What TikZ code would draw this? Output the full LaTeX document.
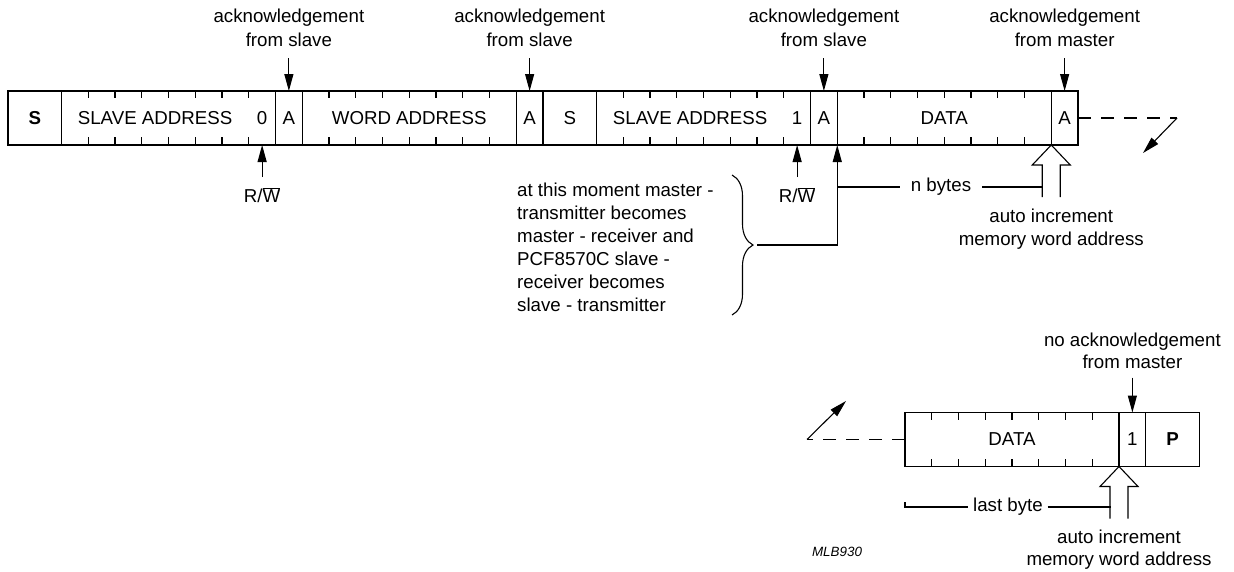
\documentclass[tikz,border=0pt]{standalone}
\usepackage{fontspec}
\setmainfont{Liberation Sans}
\usetikzlibrary{arrows.meta,decorations.pathreplacing}
\newcommand\lblfont{\fontsize{18.7pt}{23pt}\selectfont}
\begin{document}
\begin{tikzpicture}[x=1pt,y=-1pt,
  every node/.style={font=\lblfont, inner sep=0pt},
  ln/.style={line width=1.1pt},
  cell/.style={draw, ln, minimum height=54pt, anchor=north west, outer sep=0pt},
  lbl/.style={align=center},
  arr/.style={ln, -{Triangle[length=17pt,width=9pt]}},
  dashline/.style={ln, dash pattern=on 13pt off 10pt},
  hollow/.pic={\draw[line width=1.1pt, line join=miter] (-9,52) -- (-9,20) -- (-19,20) -- (0,0) -- (19,20) -- (9,20) -- (9,52);}
]
\useasboundingbox (0,0) rectangle (1234,571);
\def\u{26.75}
% ---------- top frame ----------
\node[cell, minimum width=53.5pt] (S1) at (8,91) {\textbf{S}};
\node[cell, minimum width=214pt] (SA1) at (61.5,91) {};
\node[cell, minimum width=26.75pt] (A1) at (275.5,91) {A};
\node[cell, minimum width=214pt] (WA) at (302.25,91) {WORD ADDRESS};
\node[cell, minimum width=26.75pt] (A2) at (516.25,91) {A};
\node[cell, minimum width=53.5pt] (S2) at (543,91) {S};
\node[cell, minimum width=214pt] (SA2) at (596.5,91) {};
\node[cell, minimum width=26.75pt] (A3) at (810.5,91) {A};
\node[cell, minimum width=214pt] (D1) at (837.25,91) {DATA};
\node[cell, minimum width=26.75pt] (A4) at (1051.25,91) {A};
\node (sa1t) at ([xshift=3.5*\u pt]SA1.west) {SLAVE ADDRESS};
\node (z0) at ([xshift=7.5*\u pt]SA1.west) {0};
\node (sa2t) at ([xshift=3.5*\u pt]SA2.west) {SLAVE ADDRESS};
\node (z1) at ([xshift=7.5*\u pt]SA2.west) {1};
\foreach \f in {SA1,WA,SA2,D1}{
  \foreach \k in {1,...,7}{
    \draw[ln] ([xshift=\k*\u pt]\f.north west) -- ++(0,7);
    \draw[ln] ([xshift=\k*\u pt]\f.south west) -- ++(0,-8);
  }
}
% acknowledgement labels
\tikzset{acklbl/.style={lbl, font=\fontsize{18.7pt}{24.5pt}\selectfont}}
\node[acklbl] (ack1) at (A1.north |- 0,28) {acknowledgement\\from slave};
\node[acklbl] (ack2) at (A2.north |- 0,28) {acknowledgement\\from slave};
\node[acklbl] (ack3) at (A3.north |- 0,28) {acknowledgement\\from slave};
\node[acklbl] (ack4) at (A4.north |- 0,28) {acknowledgement\\from master};
\foreach \a in {A1,A2,A3,A4}{
  \draw[arr] ([yshift=33pt]\a.north) -- (\a.north);
}
% R/W
\node[anchor=base] (rw1) at (z0 |- 0,202) {R/$\overline{\mbox{W}}$};
\node[anchor=base] (rw2) at (z1 |- 0,202) {R/$\overline{\mbox{W}}$};
\coordinate (rwt1) at (z0 |- 0,177);
\coordinate (rwt2) at (z1 |- 0,177);
\draw[arr] (rwt1) -- (rwt1 |- SA1.south);
\draw[arr] (rwt2) -- (rwt2 |- SA2.south);
% continuation
\coordinate (c1) at (1177,118);
\coordinate (c2) at (1143,153);
\draw[dashline] (A4.east) -- (c1);
\draw[arr] (c1) -- (c2);
% brace and text
\draw[ln, decorate, decoration={brace, amplitude=21pt}] (732,175) -- (732,315);
\node[anchor=west, align=left] (note) at (517,247.3)
  {at this moment master -\\transmitter becomes\\master - receiver and\\PCF8570C slave -\\receiver becomes\\slave - transmitter};
\coordinate (bt) at (757,245);
\draw[arr] (bt) -- (bt -| D1.south west) -- (D1.south west);
% n bytes and hollow arrow
\pic at (D1.south east) {hollow};
\coordinate (h1l) at ([xshift=-9pt]D1.south east);
\node[inner xsep=11pt] (nb) at (941,187) {n bytes};
\draw[ln] (nb.west -| D1.south west) -- (nb.west);
\draw[ln] (nb.east) -- (nb.east -| h1l);
\node[lbl, font=\fontsize{18.7pt}{22.5pt}\selectfont] (ai1) at (D1.south east |- 0,229) {auto increment\\memory word address};
% ---------- bottom frame ----------
\node[cell, minimum width=214pt] (D2) at (905,412.5) {DATA};
\node[cell, minimum width=26.75pt] (B1) at (1119,412.5) {1};
\node[cell, minimum width=53.5pt] (P) at (1145.75,412.5) {\textbf{P}};
\foreach \k in {1,...,7}{
  \draw[ln] ([xshift=\k*\u pt]D2.north west) -- ++(0,7);
  \draw[ln] ([xshift=\k*\u pt]D2.south west) -- ++(0,-8);
}
\node[lbl, font=\fontsize{18.7pt}{22.5pt}\selectfont] (nack) at (B1.north |- 0,351) {no acknowledgement\\from master};
\draw[arr] ([yshift=35pt]B1.north) -- (B1.north);
\coordinate (c3) at (807,439.5);
\coordinate (c4) at (846,401);
\draw[dashline] (D2.west) -- (c3);
\draw[arr] (c3) -- (c4);
\pic at (D2.south east) {hollow};
\coordinate (h2l) at ([xshift=-8.5pt]D2.south east);
\node[inner xsep=4.5pt] (lb) at (1008,507) {last byte};
\coordinate (lb0) at (D2.south west |- lb.west);
\draw[ln] ([yshift=5pt]lb0) -- (lb0) -- (lb.west);
\draw[ln] (lb.east) -- (lb.east -| h2l);
\node[lbl, font=\fontsize{18.7pt}{22.5pt}\selectfont] (ai2) at (D2.south east |- 0,549.5) {auto increment\\memory word address};
\node[font=\fontsize{13.4pt}{16pt}\selectfont\itshape] (mlb) at (837,552) {MLB930};
\end{tikzpicture}
\end{document}
